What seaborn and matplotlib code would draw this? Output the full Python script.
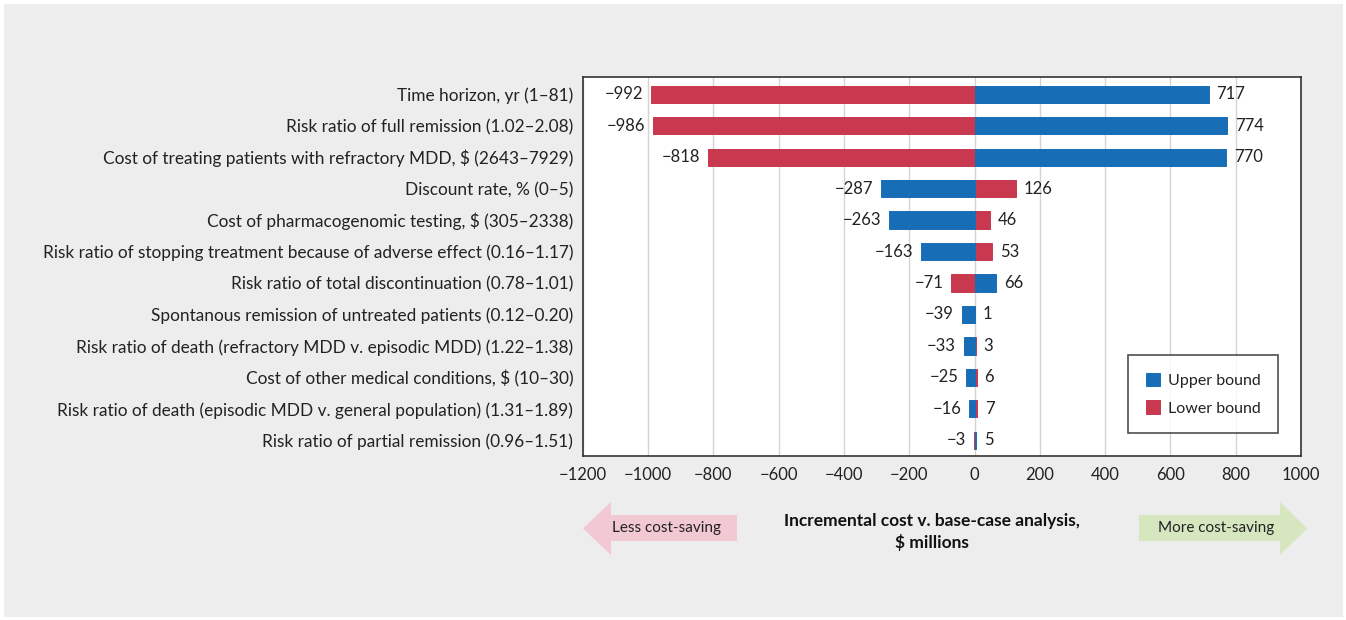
import numpy as np
import pandas as pd
import matplotlib.pyplot as plt
import seaborn as sns
from matplotlib.patches import Polygon, Rectangle

params = [
    'Time horizon, yr (1\u201381)',
    'Risk ratio of full remission (1.02\u20132.08)',
    'Cost of treating patients with refractory MDD, $ (2643\u20137929)',
    'Discount rate, % (0\u20135)',
    'Cost of pharmacogenomic testing, $ (305\u20132338)',
    'Risk ratio of stopping treatment because of adverse effect (0.16\u20131.17)',
    'Risk ratio of total discontinuation (0.78\u20131.01)',
    'Spontanous remission of untreated patients (0.12\u20130.20)',
    'Risk ratio of death (refractory MDD v. episodic MDD) (1.22\u20131.38)',
    'Cost of other medical conditions, $ (10\u201330)',
    'Risk ratio of death (episodic MDD v. general population) (1.31\u20131.89)',
    'Risk ratio of partial remission (0.96\u20131.51)',
]
upper = [717, 774, 770, -287, -263, -163, 66, -39, -33, -25, -16, 5]
lower = [-992, -986, -818, 126, 46, 53, -71, 1, 3, 6, 7, -3]
xticks = list(range(-1200, 1001, 200))

blue = '#176EB7'
red = '#C8384F'
txt = '#222222'

sns.set_style('white')
plt.rcParams['font.family'] = ['Lato', 'DejaVu Sans']

df = pd.DataFrame({'param': params, 'upper': upper, 'lower': lower})

fig = plt.figure(figsize=(13.46, 6.2), dpi=100, facecolor='#EDEDED')
ax = fig.add_axes([0.4331, 0.2645, 0.5334, 0.6113])

# red first so the thin blue ones stay on top like in the original
sns.barplot(data=df, x='lower', y='param', color=red, orient='h', width=0.55,
            ax=ax, label='Lower bound', saturation=1, linewidth=0.7, edgecolor=red)
sns.barplot(data=df, x='upper', y='param', color=blue, orient='h', width=0.55,
            ax=ax, label='Upper bound', saturation=1, linewidth=0.7, edgecolor=blue)

for i, (u, l) in enumerate(zip(upper, lower)):
    lo, hi = min(u, l), max(u, l)
    ax.text(lo - 24, i, '\u2212' + str(abs(lo)), ha='right', va='center',
            fontsize=12, color=txt)
    ax.text(hi + 24, i, str(hi), ha='left', va='center', fontsize=12, color=txt)

ax.set_xlim(-1200, 1000)
ax.set_ylim(11.5, -0.55)
ax.set_xticks(xticks)
ax.set_xticklabels([('\u2212' + str(abs(t))) if t < 0 else str(t) for t in xticks],
                   fontsize=12, color=txt)
ax.tick_params(axis='x', direction='in', length=4, color='#888888', pad=8)
ax.tick_params(axis='y', length=0, pad=7, labelsize=12.4, labelcolor=txt)
ax.set_xlabel('')
ax.set_ylabel('')
ax.grid(axis='x', color='#D4D4D4', linewidth=1)
ax.set_axisbelow(True)
for s in ax.spines.values():
    s.set_visible(True)
    s.set_color('#333333')
    s.set_linewidth(1.2)

handles, labels = ax.get_legend_handles_labels()
handles, labels = handles[::-1], labels[::-1]
leg = ax.legend(handles, labels, loc='upper left', bbox_to_anchor=(1128 / 1346, 1 - 355 / 620),
                bbox_transform=fig.transFigure, frameon=True, fancybox=False,
                edgecolor='#222222', fontsize=11.5, handlelength=0.9, handleheight=0.9,
                borderpad=1.1, labelspacing=0.8, handletextpad=0.5, borderaxespad=0)
leg.get_frame().set_linewidth(1.2)
for t in leg.get_texts():
    t.set_color(txt)

W, H = 1346, 620


def fx(x, y):
    return (x / W, 1 - y / H)


pink = Polygon([fx(737, 515), fx(611, 515), fx(611, 502), fx(583, 528.5),
                fx(611, 555), fx(611, 541), fx(737, 541)], closed=True,
               transform=fig.transFigure, facecolor='#F2C8D3', edgecolor='none')
green = Polygon([fx(1139, 515), fx(1280, 515), fx(1280, 502), fx(1307, 528.5),
                 fx(1280, 555), fx(1280, 541), fx(1139, 541)], closed=True,
                transform=fig.transFigure, facecolor='#D6E6BF', edgecolor='none')
fig.patches.extend([pink, green])

fig.text(667 / W, 1 - 528 / H, 'Less cost-saving', ha='center', va='center',
         fontsize=11, color=txt)
fig.text(1216 / W, 1 - 528 / H, 'More cost-saving', ha='center', va='center',
         fontsize=11, color=txt)
fig.text(932 / W, 1 - 532 / H, 'Incremental cost v. base-case analysis,\n$ millions',
         ha='center', va='center', fontsize=12.5, fontweight='bold', color='#111111',
         linespacing=1.3)

fig.patches.append(Rectangle((0, 0), 1, 1, transform=fig.transFigure, fill=False,
                             edgecolor='white', linewidth=5))

fig.savefig('out.png', dpi=100, facecolor=fig.get_facecolor())
